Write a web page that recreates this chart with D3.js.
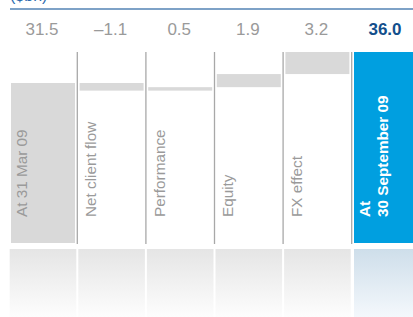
<!DOCTYPE html>
<html>
<head>
<meta charset="utf-8">
<script src="https://cdn.jsdelivr.net/npm/d3@7/dist/d3.min.js"></script>
<style>
  html, body { margin: 0; padding: 0; background: #fff; }
  svg { display: block; font-family: "Liberation Sans", Arial, Helvetica, sans-serif; }
</style>
</head>
<body>
<div class="chart"><svg></svg></div>
<script>
// categories along the bottom, waterfall steps in $bn
const categories = ['At 31 Mar 09', 'Net client flow', 'Performance', 'Equity', 'FX effect', 'At 30 September 09'];
const labelLines = [['At 31 Mar 09'], ['Net client flow'], ['Performance'], ['Equity'], ['FX effect'], ['At', '30 September 09']];
const values = [31.5, -1.1, 0.5, 1.9, 3.2, 36.0];
const isTotal = [true, false, false, false, false, true];
const valueLabels = ['31.5', '\u20131.1', '0.5', '1.9', '3.2', '36.0'];
const unitLabel = '($bn)';

const width = 413;
const height = 317;

let svg = d3.select('.chart svg')
    .attr('width', width)
    .attr('height', height);

// baseline of the bars is cut, the scale does not start at zero
const yBase = 8.3;
const y = d3.scaleLinear()
    .domain([yBase, 36])
    .range([243, 52]);

const step = 68.6;
const x = d3.scaleBand()
    .domain(categories)
    .range([8.7, 8.7 + step * categories.length])
    .paddingInner(0.067)
    .paddingOuter(0.0335);
const bw = x.bandwidth();
const gap = x.step() - bw;

// running totals for the floating bars
let running = 0;
let bars = categories.map((c, i) => {
  let lo, hi;
  if (isTotal[i]) {
    lo = yBase;
    hi = values[i];
    running = values[i];
  } else {
    lo = Math.min(running, running + values[i]);
    hi = Math.max(running, running + values[i]);
    running += values[i];
  }
  return {cat: c, lo: lo, hi: hi, i: i};
});

// gradients for the reflection under the bars
let defs = svg.append('defs');
let grey = defs.append('linearGradient')
    .attr('id', 'reflGrey')
    .attr('x1', 0).attr('y1', 0).attr('x2', 0).attr('y2', 1);
grey.append('stop').attr('offset', '0%').attr('stop-color', '#e5e5e5');
grey.append('stop').attr('offset', '100%').attr('stop-color', '#fdfdfd');
let blue = defs.append('linearGradient')
    .attr('id', 'reflBlue')
    .attr('x1', 0).attr('y1', 0).attr('x2', 0).attr('y2', 1);
blue.append('stop').attr('offset', '0%').attr('stop-color', '#cedeea');
blue.append('stop').attr('offset', '100%').attr('stop-color', '#f4f8fc');

// title and top rule
svg.append('text')
    .attr('x', 10)
    .attr('y', 1)
    .attr('fill', '#2a6aad')
    .style('font-size', '16px')
    .text(unitLabel);

svg.append('line')
    .attr('x1', 10).attr('x2', width)
    .attr('y1', 9).attr('y2', 9)
    .attr('stroke', '#5383b5')
    .attr('stroke-width', 1.3);

// values row
svg.append('g')
    .selectAll('text')
    .data(valueLabels)
    .enter()
    .append('text')
    .attr('x', (d, i) => x(categories[i]) + bw / 2 - 1)
    .attr('y', 35)
    .attr('text-anchor', 'middle')
    .attr('fill', (d, i) => i === 5 ? '#124f8c' : '#9a9a9a')
    .style('font-weight', (d, i) => i === 5 ? 'bold' : 'normal')
    .style('font-size', '17px')
    .text(d => d);

// reflection panels
svg.append('g')
    .selectAll('rect')
    .data(categories)
    .enter()
    .append('rect')
    .attr('x', (d, i) => i === 5 ? x(d) : x(d) - gap / 2 + 1)
    .attr('width', (d, i) => i === 5 ? bw : bw + gap - 2)
    .attr('y', 249)
    .attr('height', height - 249)
    .attr('fill', (d, i) => i === 5 ? 'url(#reflBlue)' : 'url(#reflGrey)');

// column dividers
svg.append('g')
    .selectAll('line')
    .data(categories.slice(1))
    .enter()
    .append('line')
    .attr('x1', d => x(d) - gap / 2)
    .attr('x2', d => x(d) - gap / 2)
    .attr('y1', 52)
    .attr('y2', 244)
    .attr('stroke', '#a8a8a8')
    .attr('stroke-width', 1.3);

// bars
svg.append('g')
    .selectAll('rect')
    .data(bars)
    .enter()
    .append('rect')
    .attr('x', d => x(d.cat))
    .attr('width', bw)
    .attr('y', d => y(d.hi))
    .attr('height', d => y(d.lo) - y(d.hi))
    .attr('fill', d => d.i === 5 ? '#009fe0' : '#d9d9d9');

// rotated category labels
let labels = svg.append('g')
    .selectAll('text')
    .data(categories)
    .enter()
    .append('text')
    .attr('transform', (d, i) => {
      let n = labelLines[i].length;
      let bx = x(d) + 16.5 + (n - 1) * 17.5;
      return 'translate(' + bx + ',217) rotate(-90)';
    })
    .attr('fill', (d, i) => i === 5 ? '#fff' : '#9a9a9a')
    .style('font-weight', (d, i) => i === 5 ? 'bold' : 'normal')
    .style('font-size', '15.3px');

labels.each(function(d, i) {
  let t = d3.select(this);
  let n = labelLines[i].length;
  labelLines[i].forEach((line, j) => {
    t.append('tspan')
      .attr('x', 0)
      .attr('y', (j - (n - 1)) * 17.5)
      .text(line);
  });
});
</script>
</body>
</html>
